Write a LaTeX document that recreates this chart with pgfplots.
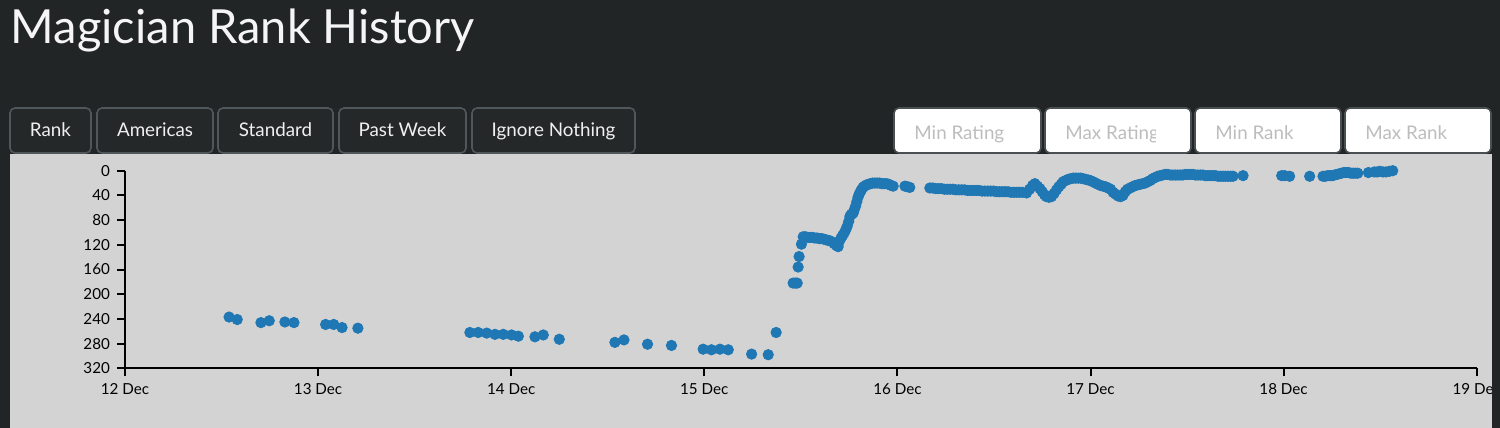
\documentclass[border=0pt]{standalone}
\usepackage{fontspec}
\setmainfont{Lato}
\usepackage{pgfplots}
\pgfplotsset{compat=1.18}
\definecolor{bgdark}{HTML}{212526}
\definecolor{panel}{HTML}{D3D3D3}
\definecolor{btnborder}{HTML}{50575A}
\definecolor{btnfill}{HTML}{242829}
\definecolor{inborder}{HTML}{4A5052}
\definecolor{placeholder}{HTML}{BDBDBD}
\definecolor{dotblue}{HTML}{1F77B4}

% day = days after 12 Dec 00:00, rank
\pgfplotstableread{
day rank
0.539 237
0.581 241
0.704 246
0.747 243
0.828 245
0.875 246
1.039 249
1.081 249
1.124 254
1.206 255
1.786 262
1.829 262
1.873 263
1.916 265
1.959 265
2.002 266
2.037 268
2.123 269
2.166 266
2.249 273
2.537 278
2.584 274
2.706 281
2.830 283
2.994 289
3.037 290
3.081 289
3.124 290
3.245 297
3.331 298
3.372 262
3.460 182
3.472 182
3.481 182
3.486 156
3.491 139
3.503 119
3.512 107
3.524 107
3.536 108
3.548 108
3.560 108
3.572 109
3.584 109
3.596 110
3.608 110
3.620 111
3.632 112
3.644 113
3.654 114
3.672 118
3.684 121
3.693 123
3.700 114
3.708 109
3.716 105
3.724 101
3.732 96
3.740 90
3.748 82
3.754 74
3.760 71
3.766 70
3.772 68
3.778 62
3.784 57
3.790 50
3.796 43
3.802 38
3.808 34
3.814 31
3.822 27
3.830 25
3.840 23
3.850 22
3.860 21
3.872 20
3.884 20
3.896 20
3.908 20
3.920 21
3.932 21
3.944 21
3.956 22
3.968 24
3.978 25
4.039 25
4.052 26
4.064 27
4.168 28
4.183 28
4.198 29
4.213 29
4.228 29
4.243 30
4.258 30
4.273 30
4.288 30
4.303 31
4.318 31
4.333 31
4.348 31
4.363 32
4.378 32
4.393 32
4.408 32
4.423 32
4.438 33
4.453 33
4.468 33
4.483 33
4.498 33
4.513 34
4.528 34
4.543 34
4.558 34
4.573 34
4.588 35
4.603 35
4.618 35
4.633 35
4.648 35
4.669 36
4.685 30
4.700 24
4.712 21
4.725 25
4.738 29
4.750 34
4.762 39
4.772 42
4.785 43
4.798 42
4.811 37
4.824 31
4.836 26
4.848 22
4.858 18
4.871 16
4.884 14
4.897 13
4.910 12
4.923 12
4.936 12
4.949 12
4.962 13
4.975 14
4.988 15
5.000 16
5.013 18
5.026 20
5.039 22
5.052 24
5.065 25
5.078 26
5.091 28
5.104 30
5.117 35
5.130 38
5.143 41
5.156 42
5.168 40
5.180 34
5.192 30
5.205 28
5.218 26
5.231 24
5.244 23
5.257 22
5.270 21
5.283 20
5.296 18
5.309 16
5.322 13
5.335 11
5.348 9
5.361 8
5.374 7
5.387 6
5.400 6
5.413 7
5.426 7
5.439 7
5.452 7
5.465 7
5.478 7
5.491 6
5.504 6
5.517 6
5.530 6
5.543 7
5.556 7
5.569 7
5.582 7
5.595 8
5.608 8
5.621 8
5.634 8
5.647 8
5.660 9
5.673 9
5.686 9
5.699 9
5.712 9
5.725 9
5.738 9
5.790 8
5.990 8
6.005 8
6.031 9
6.135 9
6.204 9
6.216 9
6.228 8
6.240 8
6.252 8
6.264 7
6.276 6
6.288 5
6.300 4
6.312 3
6.324 3
6.336 3
6.348 4
6.360 4
6.372 4
6.384 4
6.439 3
6.470 2
6.485 2
6.499 1
6.515 2
6.530 2
6.548 1
6.565 0
}\rankdata

\begin{document}
\begin{tikzpicture}
\begin{scope}[x=0.5pt,y=-0.5pt]
  \fill[bgdark] (0,0) rectangle (1500,428);
  \fill[panel] (10,154) rectangle (1492,428);
  \node[anchor=base west, inner sep=0pt, text=white!96!black,
        font=\fontsize{23.5}{28}\selectfont] at (10.5,43.3) {Magician Rank History};
  % buttons
  \foreach \a/\b/\lab in {10/91/Rank, 97/213/Americas, 218/333/Standard,
                          339/466/Past Week, 472/635/Ignore Nothing}{
    \draw[rounded corners=2.5pt, draw=btnborder, fill=btnfill, line width=0.8pt]
      (\a,108) rectangle (\b,153);
    \node[anchor=base, inner sep=0pt, text=white!94!black,
          font=\fontsize{9.4}{11}\selectfont] at ({(\a+\b)/2},136.7) {\lab};
  }
  % input boxes
  \foreach \a/\b/\lab in {894/1041/Min Rating, 1045/1191/Max Rating,
                          1195/1341/Min Rank, 1345/1491/Max Rank}{
    \draw[rounded corners=2.5pt, draw=inborder, fill=white, line width=0.8pt]
      (\a,108) rectangle (\b,153);
    \begin{scope}
      \clip (\a,108) rectangle ({\b-36},153);
      \node[anchor=base west, inner sep=0pt, text=placeholder,
            font=\fontsize{9.4}{11}\selectfont] at ({\a+20},139) {\lab};
    \end{scope}
  }
\end{scope}

\begin{axis}[
    scale only axis,
    width=675.85pt, height=98.8pt,
    at={(62.5pt,-184.15pt)}, anchor=south west,
    xmin=0, xmax=7, ymin=0, ymax=320,
    y dir=reverse,
    axis x line*=bottom, axis y line*=left,
    axis line style={black, line width=1pt},
    tick style={black, line width=1pt},
    tick align=outside,
    major tick length=4pt,
    xtick={0,...,7},
    xticklabels={12 Dec,13 Dec,14 Dec,15 Dec,16 Dec,17 Dec,18 Dec,19 Dec},
    ytick={0,40,...,320},
    scaled y ticks=false,
    ticklabel style={font=\fontsize{7.6}{9}\selectfont, text=black},
    /pgf/number format/assume math mode=true,
    clip=false,
]
\addplot[dotblue, only marks, mark=*, mark size=2.6pt,
         mark options={draw=dotblue, fill=dotblue}] table[x=day, y=rank] {\rankdata};
\end{axis}

\begin{scope}[x=0.5pt,y=-0.5pt]
  \fill[bgdark] (1492,154) rectangle (1500,428);
\end{scope}
\pgfresetboundingbox
\useasboundingbox (0,0) rectangle (750pt,-214pt);
\end{tikzpicture}
\end{document}
